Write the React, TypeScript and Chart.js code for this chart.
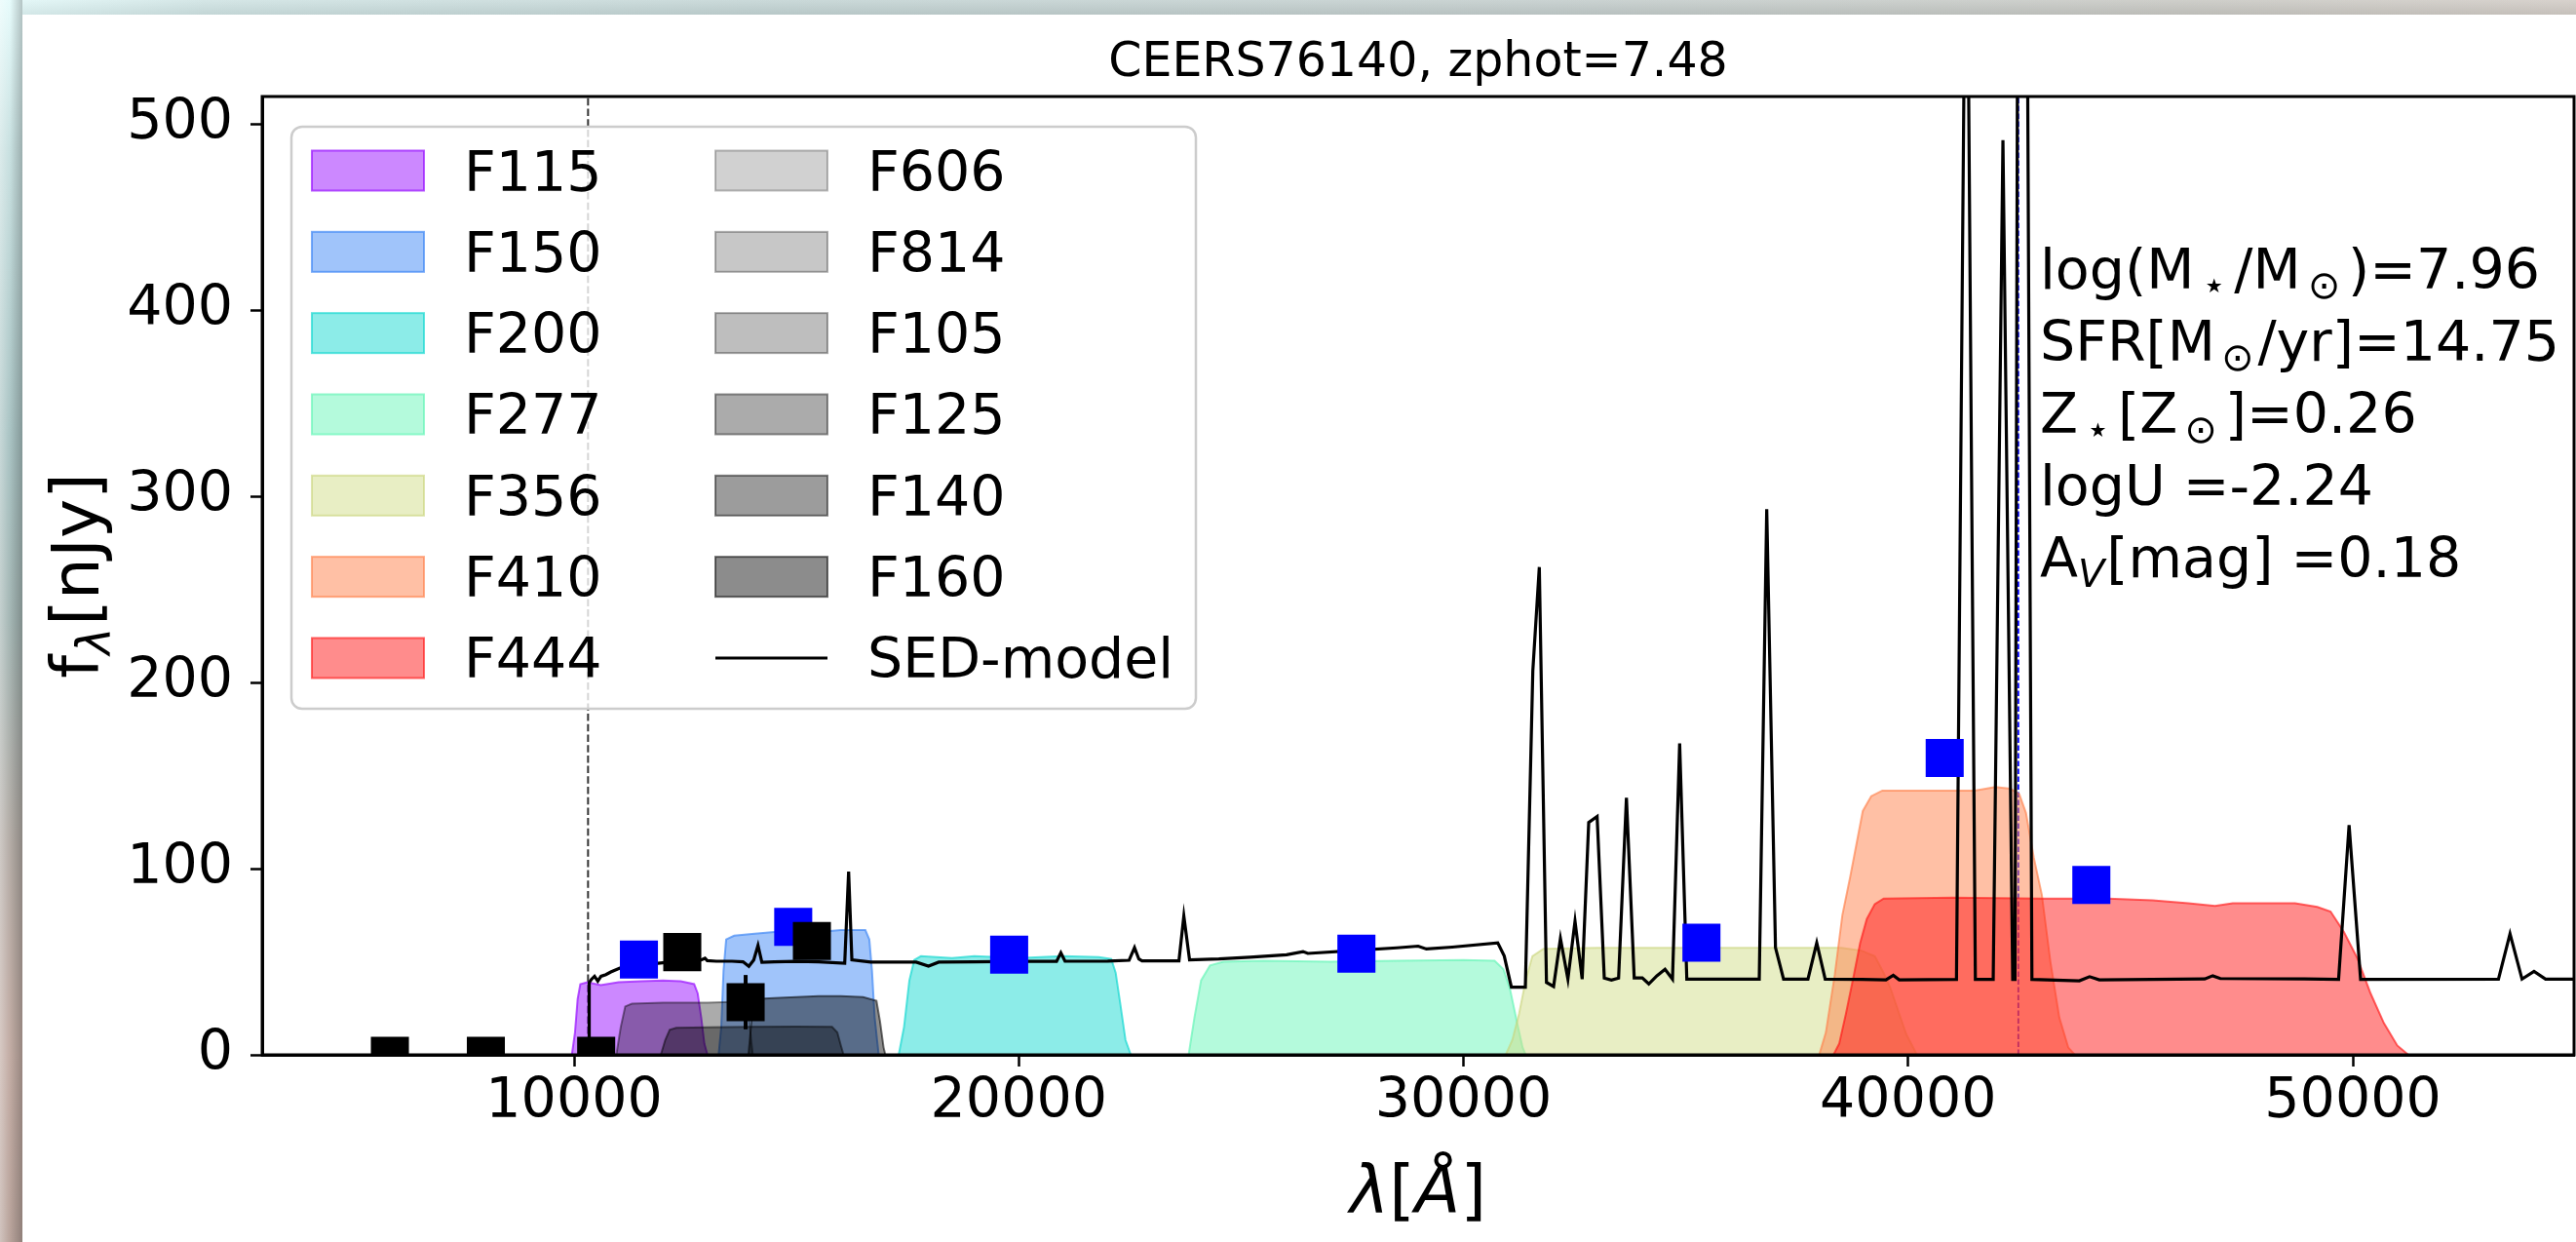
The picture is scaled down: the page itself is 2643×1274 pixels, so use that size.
import React, { useEffect, useRef } from 'react';
import { Chart, registerables } from 'chart.js';

Chart.register(...registerables);

const FONT = '"DejaVu Sans", "Noto Sans", sans-serif';

// ---------- axes ----------
const X_MIN = 2986;
const X_MAX = 54975;
const Y_MIN = 0;
const Y_MAX = 515;
const X_TICKS = [10000, 20000, 30000, 40000, 50000];
const Y_TICKS = [0, 100, 200, 300, 400, 500];

const TITLE = 'CEERS76140, zphot=7.48';

// ---------- SED model ----------
const SED_WAVE = [10300, 10330, 10340, 10388, 10460, 10533, 10606, 10716, 10826, 11030,
  11400, 11885, 12400, 12856, 12944, 12995, 13200, 13550, 13800, 13930,
  14040, 14136, 14223, 14500, 15000, 15500, 16086, 16174, 16247, 16670,
  17693, 17970, 18200, 19000, 20000, 20850, 20946, 21040, 22000, 22480,
  22603, 22700, 22772, 23602, 23712, 23841, 24500, 25200, 26022, 26393,
  26500, 27500, 28500, 28981, 29167, 29748, 30771, 30917, 31078, 31392,
  31560, 31706, 31867, 32027, 32181, 32349, 32509, 32670, 32817, 33006,
  33167, 33328, 33489, 33665, 33840, 34022, 34168, 34350, 34533, 34701,
  34862, 35023, 35812, 36652, 36820, 37017, 37199, 37747, 37945, 38135,
  38953, 39500, 39666, 39800, 41087, 41310, 41512, 41913, 42132, 42352,
  42403, 42540, 42784, 43850, 44080, 44300, 46670, 46850, 47020, 48910,
  49680, 49916, 50175, 53275, 53535, 53805, 54075, 54335, 55020];
const SED_FLUX = [0, 0, 38.8, 40.5, 42.2, 39.6, 42.2, 43.1, 44.5, 46.6,
  48, 49.2, 50.5, 51, 51.9, 50.6, 50.3, 50.3, 50, 47.5,
  51, 58.8, 49.7, 50, 50.2, 50, 49.2, 98.5, 51, 49.8,
  49.8, 47.7, 49.8, 50, 50.2, 50.2, 54.8, 50.3, 50.4, 50.8,
  57.6, 51.5, 50.5, 50.5, 74.6, 51, 51.5, 52.5, 53.8, 55.5,
  54.5, 56, 57.5, 58.4, 56.9, 57.9, 60.2, 53.1, 36.3, 36.3,
  206.3, 262.1, 38.9, 36.7, 62.5, 40.7, 71.7, 40.7, 124.9, 128.1,
  41.3, 40.2, 41.3, 138.2, 41.3, 41.3, 38.1, 42.5, 46, 40.7,
  167.4, 40.7, 40.7, 40.7, 293.3, 57.6, 40.7, 40.7, 60.2, 40.7,
  40.5, 40.3, 42.7, 40.3, 40.5, 680, 40.5, 40.5, 491.5, 40.5,
  40.5, 1270, 40.5, 39.8, 42, 40.3, 40.8, 42.5, 41, 40.8,
  40.5, 123.5, 40.5, 40.7, 65, 40.7, 44.8, 40.7, 40.7];

// ---------- photometry ----------
const JWST_BANDS = ['F115', 'F150', 'F200', 'F277', 'F356', 'F410', 'F444'];
const JWST_WAVE = [11458, 14928, 19784, 27593, 35352, 40822, 44120];
const JWST_FLUX = [51.2, 68.8, 53.8, 54.3, 60.3, 159.5, 91.3];
const JWST_ERR = [3, 3, 3, 3, 4, 5, 4];

const HST_BANDS = ['F606', 'F814', 'F105', 'F125', 'F140', 'F160'];
const HST_WAVE = [5858, 8016, 10497, 12433, 13858, 15348];
const HST_FLUX = [-0.5, -0.5, -0.5, 55.2, 28.3, 61.2];
const HST_ERR = [5, 5, 5, 7, 14.6, 7];

// ---------- filter curves (scaled) ----------
const F115_WAVE = [9950, 10020, 10080, 10140, 10300, 10600, 11000, 11500, 12000, 12400, 12700, 12780, 12860, 12930, 13000];
const F115_RESP = [0, 12, 30, 38, 39, 37.5, 39, 39.5, 40, 39.5, 38, 33, 20, 6, 0];
const F150_WAVE = [13250, 13310, 13360, 13420, 13600, 14000, 14500, 15000, 15500, 16000, 16550, 16640, 16700, 16760, 16850];
const F150_RESP = [0, 15, 45, 62, 64, 65, 66, 66.5, 66, 67, 67, 62, 45, 20, 0];
const F200_WAVE = [17300, 17420, 17540, 17650, 17800, 18500, 19000, 20000, 21000, 21800, 22080, 22180, 22280, 22400, 22520];
const F200_RESP = [0, 15, 40, 51, 53, 52, 53, 52, 53, 52.5, 51.5, 44, 28, 8, 0];
const F277_WAVE = [23820, 23950, 24100, 24300, 24600, 25500, 27000, 28500, 30000, 30700, 30900, 31050, 31200, 31330, 31400];
const F277_RESP = [0, 20, 40, 48, 50, 50.5, 50, 50.5, 51, 50.5, 46, 35, 18, 4, 0];
const F356_WAVE = [30950, 31100, 31250, 31400, 31550, 31800, 33000, 35000, 37000, 38500, 38950, 39250, 39450, 39600, 39800, 39960, 40200];
const F356_RESP = [0, 8, 22, 40, 53, 57, 57.5, 57.5, 57.5, 57.5, 56, 53, 44, 36, 22, 11, 0];
const F410_WAVE = [38000, 38150, 38350, 38520, 38700, 38980, 39170, 39420, 40500, 41500, 41960, 42300, 42500, 42650, 42826, 43007, 43200, 43400, 43600, 43750];
const F410_RESP = [0, 12, 43, 75, 96, 131, 139, 142, 142, 142, 144, 143, 140, 130, 106, 86, 50, 20, 4, 0];
const F444_WAVE = [38320, 38450, 38600, 38780, 38920, 39070, 39250, 39450, 41000, 43000, 44500, 45500, 46300, 46900, 47300, 48000, 48700, 49200, 49500, 49800, 50100, 50400, 50700, 51000, 51250];
const F444_RESP = [0, 6, 22, 43, 60, 73, 81, 84, 84.5, 84, 84, 83, 81.5, 80, 81.5, 81.5, 81.5, 79.5, 77, 66, 52, 33, 17, 5, 0];
const F606_WAVE: number[] = [];
const F606_RESP: number[] = [];
const F814_WAVE: number[] = [];
const F814_RESP: number[] = [];
const F105_WAVE: number[] = [];
const F105_RESP: number[] = [];
const F125_WAVE = [10950, 11050, 11150, 11300, 12000, 13000, 13700, 13850, 13930, 13980, 14020];
const F125_RESP = [0, 15, 26, 27.5, 28, 28, 28.5, 28.5, 22, 8, 0];
const F140_WAVE = [11950, 12050, 12150, 12300, 13000, 14000, 15000, 15800, 15920, 16000, 16060];
const F140_RESP = [0, 8, 13.5, 14.5, 14.8, 15, 15.2, 15, 12, 5, 0];
const F160_WAVE = [13920, 13960, 14010, 14080, 14500, 15000, 15500, 16000, 16500, 16800, 16880, 16960, 17000];
const F160_RESP = [0, 10, 24, 30, 30.5, 31, 31.5, 31.5, 31, 29, 18, 4, 0];

// vertical reference lines
const LYA_WAVE = 10314;
const OIII_WAVE = 42478;

// ---------- styles ----------
const FILTER_STYLE: Record<string, [string, string]> = {
  F115: ['rgba(153,17,255,0.5)', 'rgba(153,17,255,0.7)'],
  F150: ['rgba(65,137,245,0.5)', 'rgba(65,137,245,0.7)'],
  F200: ['rgba(25,217,209,0.5)', 'rgba(25,217,209,0.7)'],
  F277: ['rgba(105,245,185,0.5)', 'rgba(105,245,185,0.7)'],
  F356: ['rgba(209,221,137,0.5)', 'rgba(200,212,120,0.6)'],
  F410: ['rgba(255,129,75,0.5)', 'rgba(255,129,75,0.65)'],
  F444: ['rgba(255,25,25,0.5)', 'rgba(255,25,25,0.65)'],
  F606: ['rgba(0,0,0,0.18)', 'rgba(0,0,0,0.26)'],
  F814: ['rgba(0,0,0,0.22)', 'rgba(0,0,0,0.3)'],
  F105: ['rgba(0,0,0,0.255)', 'rgba(0,0,0,0.34)'],
  F125: ['rgba(0,0,0,0.33)', 'rgba(0,0,0,0.42)'],
  F140: ['rgba(0,0,0,0.39)', 'rgba(0,0,0,0.48)'],
  F160: ['rgba(0,0,0,0.45)', 'rgba(0,0,0,0.55)'],
};

const FILTERS: [string, number[], number[]][] = [
  ['F115', F115_WAVE, F115_RESP],
  ['F150', F150_WAVE, F150_RESP],
  ['F200', F200_WAVE, F200_RESP],
  ['F277', F277_WAVE, F277_RESP],
  ['F356', F356_WAVE, F356_RESP],
  ['F410', F410_WAVE, F410_RESP],
  ['F444', F444_WAVE, F444_RESP],
  ['F606', F606_WAVE, F606_RESP],
  ['F814', F814_WAVE, F814_RESP],
  ['F105', F105_WAVE, F105_RESP],
  ['F125', F125_WAVE, F125_RESP],
  ['F140', F140_WAVE, F140_RESP],
  ['F160', F160_WAVE, F160_RESP],
];

const LEGEND_COL1 = ['F115', 'F150', 'F200', 'F277', 'F356', 'F410', 'F444'];
const LEGEND_COL2 = ['F606', 'F814', 'F105', 'F125', 'F140', 'F160', 'SED-model'];

type Seg = { t: string; sub?: boolean; it?: boolean; gl?: number; gr?: number };

const ANNOTATION: Seg[][] = [
  [{ t: 'log(M' }, { t: '⋆', sub: true, gl: 8, gr: 8 }, { t: '/M' }, { t: '⊙', sub: true, gl: 7, gr: 8 }, { t: ')=7.96' }],
  [{ t: 'SFR[M' }, { t: '⊙', sub: true, gl: 6, gr: 4 }, { t: '/yr]=14.75' }],
  [{ t: 'Z' }, { t: '⋆', sub: true, gl: 8, gr: 8 }, { t: '[Z' }, { t: '⊙', sub: true, gl: 7, gr: 8 }, { t: ']=0.26' }],
  [{ t: 'logU =-2.24' }],
  [{ t: 'A' }, { t: 'V', sub: true, it: true, gr: 2 }, { t: '[mag] =0.18' }],
];

const XLABEL: Seg[] = [{ t: 'λ', it: true }, { t: '[' }, { t: 'Å', it: true }, { t: ']' }];
const YLABEL: Seg[] = [{ t: 'f' }, { t: 'λ', sub: true, it: true, gr: 2 }, { t: '[nJy]' }];

const xy = (xs: number[], ys: number[]) => xs.map((x, i) => ({ x, y: ys[i] }));

function segFont(s: Seg, size: number) {
  const fs = s.sub ? size * 0.7 : size;
  return `${s.it ? 'italic ' : ''}${fs}px ${FONT}`;
}
function measureRich(ctx: CanvasRenderingContext2D, segs: Seg[], size: number) {
  let w = 0;
  for (const s of segs) {
    ctx.font = segFont(s, size);
    w += (s.gl || 0) + ctx.measureText(s.t).width + (s.gr || 0);
  }
  return w;
}
function drawRich(ctx: CanvasRenderingContext2D, segs: Seg[], x: number, y: number, size: number) {
  let cx = x;
  for (const s of segs) {
    ctx.font = segFont(s, size);
    cx += s.gl || 0;
    ctx.fillText(s.t, cx, y + (s.sub ? size * 0.17 : 0));
    cx += ctx.measureText(s.t).width + (s.gr || 0);
  }
}

const decorPlugin = {
  id: 'decor',
  afterDatasetDraw(chart: any, args: any) {
    const ds = chart.data.datasets[args.index];
    if (!ds.errors) return;
    const { ctx, chartArea: a, scales } = chart;
    ctx.save();
    ctx.beginPath();
    ctx.rect(a.left, a.top, a.right - a.left, a.bottom - a.top);
    ctx.clip();
    ctx.strokeStyle = ds.backgroundColor;
    ctx.lineWidth = 4;
    ds.data.forEach((p: any, i: number) => {
      const px = scales.x.getPixelForValue(p.x);
      ctx.beginPath();
      ctx.moveTo(px, scales.y.getPixelForValue(p.y - ds.errors[i]));
      ctx.lineTo(px, scales.y.getPixelForValue(p.y + ds.errors[i]));
      ctx.stroke();
    });
    ctx.restore();
  },
  afterDraw(chart: any) {
    const { ctx, chartArea: a } = chart;
    ctx.save();
    // frame
    ctx.strokeStyle = '#000';
    ctx.lineWidth = 3;
    ctx.strokeRect(a.left, a.top, a.right - a.left, a.bottom - a.top);

    ctx.fillStyle = '#000';
    ctx.textBaseline = 'alphabetic';
    // title
    ctx.font = `49px ${FONT}`;
    ctx.textAlign = 'center';
    ctx.fillText(TITLE, (a.left + a.right) / 2, 78);
    ctx.textAlign = 'left';

    // x label
    const xw = measureRich(ctx, XLABEL, 68);
    drawRich(ctx, XLABEL, (a.left + a.right) / 2 - xw / 2, 1244, 68);
    // y label
    const yw = measureRich(ctx, YLABEL, 68);
    ctx.save();
    ctx.translate(101, (a.top + a.bottom) / 2);
    ctx.rotate(-Math.PI / 2);
    drawRich(ctx, YLABEL, -yw / 2, 0, 68);
    ctx.restore();

    // annotation
    const baselines = [296, 370, 444, 518, 592];
    ANNOTATION.forEach((line, i) => drawRich(ctx, line, 2093, baselines[i], 57));

    // legend
    const lx = 299, ly = 130, lw = 928, lh = 597, r = 11;
    ctx.beginPath();
    ctx.moveTo(lx + r, ly);
    ctx.arcTo(lx + lw, ly, lx + lw, ly + lh, r);
    ctx.arcTo(lx + lw, ly + lh, lx, ly + lh, r);
    ctx.arcTo(lx, ly + lh, lx, ly, r);
    ctx.arcTo(lx, ly, lx + lw, ly, r);
    ctx.closePath();
    ctx.fillStyle = 'rgba(255,255,255,0.8)';
    ctx.fill();
    ctx.strokeStyle = '#cccccc';
    ctx.lineWidth = 2.5;
    ctx.stroke();

    const rowY = (i: number) => 175 + i * 83.33;
    const drawItem = (name: string, px: number, tx: number, i: number) => {
      const cy = rowY(i);
      if (name === 'SED-model') {
        ctx.strokeStyle = '#000';
        ctx.lineWidth = 3;
        ctx.beginPath();
        ctx.moveTo(px, cy);
        ctx.lineTo(px + 115, cy);
        ctx.stroke();
      } else {
        const [fill, edge] = FILTER_STYLE[name];
        ctx.fillStyle = fill;
        ctx.fillRect(px, cy - 20.5, 115, 41);
        ctx.strokeStyle = edge;
        ctx.lineWidth = 2;
        ctx.strokeRect(px, cy - 20.5, 115, 41);
      }
      ctx.fillStyle = '#000';
      ctx.font = `57px ${FONT}`;
      ctx.fillText(name, tx, cy + 20.5);
    };
    LEGEND_COL1.forEach((n, i) => drawItem(n, 320, 476, i));
    LEGEND_COL2.forEach((n, i) => drawItem(n, 734, 890, i));
    ctx.restore();
  },
};

export default function App() {
  const ref = useRef<HTMLCanvasElement>(null);
  useEffect(() => {
    const canvas = ref.current!;
    const filterOrder: Record<string, number> = {
      F160: 3, F140: 4, F125: 5, F105: 6, F814: 7, F606: 8,
      F444: 9, F410: 10, F356: 11, F277: 12, F200: 13, F150: 14, F115: 15,
    };
    const filterSets = FILTERS.map(([name, w, r]) => ({
      label: name,
      data: xy(w, r),
      backgroundColor: FILTER_STYLE[name][0],
      borderColor: FILTER_STYLE[name][1],
      borderWidth: 2,
      pointRadius: 0,
      fill: 'origin',
      tension: 0,
      order: filterOrder[name],
      clip: 0,
    }));
    const datasets: any[] = [
      {
        label: 'HST',
        data: xy(HST_WAVE, HST_FLUX),
        errors: HST_ERR,
        bands: HST_BANDS,
        showLine: false,
        pointStyle: 'rect',
        pointRadius: 27.6,
        pointHoverRadius: 27.6,
        backgroundColor: '#000000',
        borderWidth: 0,
        order: 0,
        clip: 0,
      },
      {
        label: 'JWST',
        data: xy(JWST_WAVE, JWST_FLUX),
        errors: JWST_ERR,
        bands: JWST_BANDS,
        showLine: false,
        pointStyle: 'rect',
        pointRadius: 27.6,
        pointHoverRadius: 27.6,
        backgroundColor: '#0000ff',
        borderWidth: 0,
        order: 1,
        clip: 0,
      },
      {
        label: 'SED-model',
        data: xy(SED_WAVE, SED_FLUX),
        borderColor: '#000000',
        borderWidth: 3.2,
        pointRadius: 0,
        fill: false,
        tension: 0,
        order: 2,
        clip: 0,
      },
      ...filterSets,
      {
        label: 'Lya',
        data: [{ x: LYA_WAVE, y: Y_MIN }, { x: LYA_WAVE, y: Y_MAX }],
        borderColor: '#333333',
        borderWidth: 2,
        borderDash: [7.5, 3.2],
        pointRadius: 0,
        fill: false,
        order: 16,
        clip: 0,
      },
      {
        label: 'OIII',
        data: [{ x: OIII_WAVE, y: Y_MIN }, { x: OIII_WAVE, y: Y_MAX }],
        borderColor: '#0000ff',
        borderWidth: 1.8,
        borderDash: [5.5, 2.5],
        pointRadius: 0,
        fill: false,
        order: 17,
        clip: 0,
      },
    ];

    const tickFont = { family: FONT, size: 57 };
    const zeroPad = (s: any) => {
      s.paddingLeft = 0;
      s.paddingRight = 0;
      s.paddingTop = 0;
      s.paddingBottom = 0;
    };
    const chart = new Chart(canvas, {
      type: 'line',
      data: { datasets },
      options: {
        animation: false,
        responsive: false,
        maintainAspectRatio: false,
        devicePixelRatio: 1,
        events: [],
        layout: { autoPadding: false, padding: { top: 99, right: 2, left: 0, bottom: 0 } },
        plugins: {
          legend: { display: false },
          tooltip: { enabled: false },
          title: { display: false },
        },
        scales: {
          x: {
            type: 'linear',
            min: X_MIN,
            max: X_MAX,
            afterFit: (s: any) => { s.height = 192; zeroPad(s); },
            afterBuildTicks: (s: any) => { s.ticks = X_TICKS.map((v) => ({ value: v })); },
            ticks: {
              font: tickFont,
              color: '#000',
              padding: 3,
              maxRotation: 0,
              autoSkip: false,
              callback: (v: any) => String(v),
            },
            grid: { display: true, drawOnChartArea: false, drawTicks: true, tickLength: 12, tickWidth: 2.5, tickColor: '#000' },
            border: { display: true, color: '#000', width: 3 },
          },
          y: {
            type: 'linear',
            min: Y_MIN,
            max: Y_MAX,
            afterFit: (s: any) => { s.width = 269; zeroPad(s); },
            afterBuildTicks: (s: any) => { s.ticks = Y_TICKS.map((v) => ({ value: v })); },
            ticks: {
              font: tickFont,
              color: '#000',
              padding: 18,
              autoSkip: false,
              callback: (v: any) => String(v),
            },
            grid: { display: true, drawOnChartArea: false, drawTicks: true, tickLength: 12, tickWidth: 2.5, tickColor: '#000' },
            border: { display: true, color: '#000', width: 3 },
          },
        },
      } as any,
      plugins: [decorPlugin as any],
    });
    return () => chart.destroy();
  }, []);

  return (
    <div style={{ position: 'fixed', left: 0, top: 0, width: 2643, height: 1274, overflow: 'hidden', background: '#ffffff' }}>
      <div
        style={{
          position: 'absolute', left: 0, top: 0, width: 2643, height: 15,
          background:
            'linear-gradient(to bottom, rgba(255,255,255,0.12), rgba(0,0,0,0.06)), linear-gradient(to right, #e2f8f8 0%, #cfe3e3 8%, #c3d4d4 30%, #c3cdcc 60%, #c8c8c3 85%, #d2ccc6 100%)',
        }}
      />
      <div
        style={{
          position: 'absolute', left: 0, top: 0, width: 23, height: 1274,
          background:
            'linear-gradient(to right, rgba(255,255,255,0.35) 0%, rgba(255,255,255,0) 45%, rgba(0,0,0,0.22) 100%), linear-gradient(to bottom, #e6fbfb 0%, #c8e0e0 12%, #a9c3c3 35%, #a4b6b4 50%, #b4aca6 68%, #c2aca4 85%, #b8a39b 100%)',
        }}
      />
      <canvas
        ref={ref}
        width={2643}
        height={1274}
        style={{ position: 'absolute', left: 0, top: 0, width: 2643, height: 1274 }}
      />
    </div>
  );
}
